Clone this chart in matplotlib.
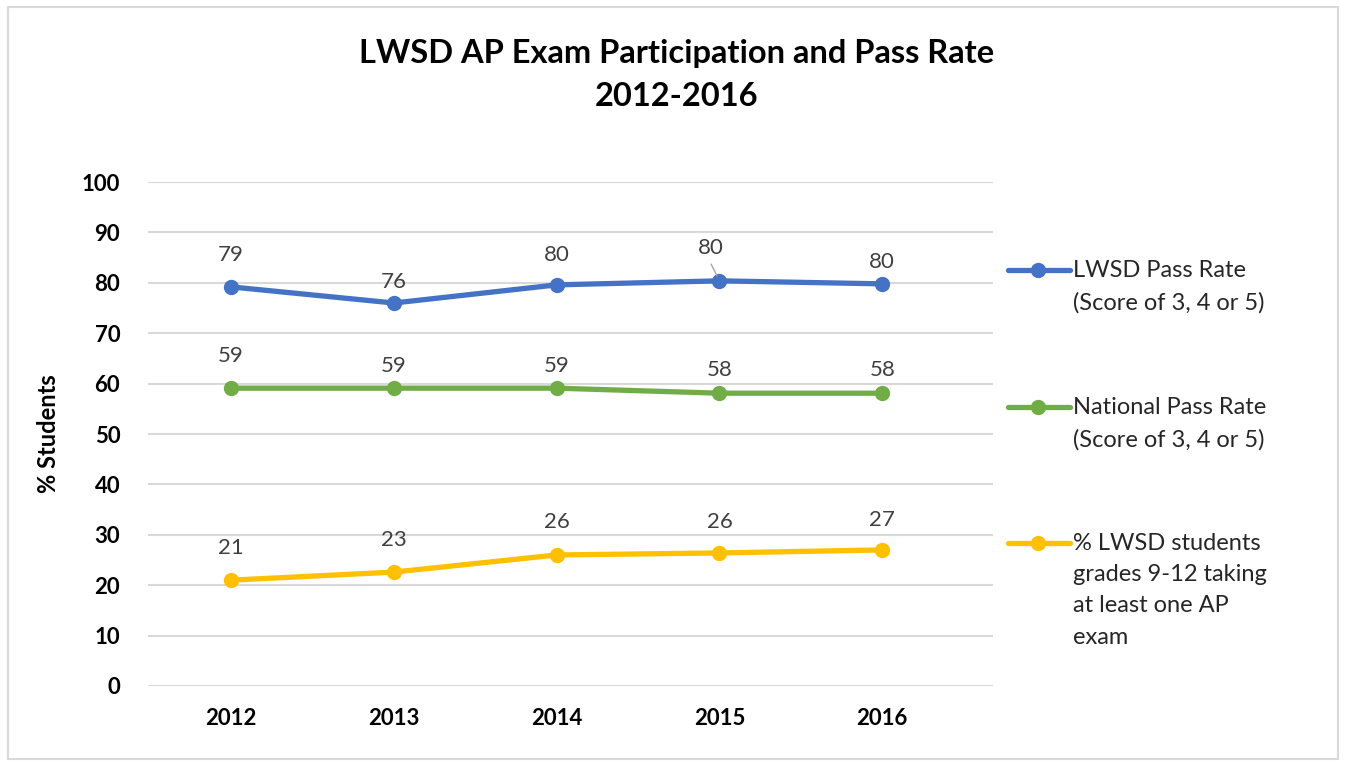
import matplotlib.pyplot as plt
from matplotlib.lines import Line2D
from matplotlib.patches import Rectangle

years = ["2012", "2013", "2014", "2015", "2016"]
lwsd_pass = [79.2, 76.0, 79.6, 80.4, 79.8]
national_pass = [59.1, 59.1, 59.1, 58.1, 58.1]
participation = [21.0, 22.6, 26.0, 26.4, 27.0]

series_names = [
    "LWSD Pass Rate\n(Score of 3, 4 or 5)",
    "National Pass Rate\n(Score of 3, 4 or 5)",
    "% LWSD students\ngrades 9-12 taking\nat least one AP\nexam",
]
colors = ["#4472C4", "#70AD47", "#FFC000"]

plt.rcParams["font.family"] = ["Lato", "DejaVu Sans"]

fig = plt.figure(figsize=(13.45, 7.65), dpi=100)
ax = fig.add_axes([148 / 1345, 0.1033, 845 / 1345, 0.6587])

x = list(range(len(years)))
all_series = [lwsd_pass, national_pass, participation]
# per-point label offsets in points (Excel placed them a bit unevenly)
offsets = [
    [(0, 23), (0, 15), (0, 21.5), (-6, 24), (0, 16)],
    [(0, 23), (0, 16), (0, 16), (0, 16.5), (0, 16.5)],
    [(0, 23), (0, 23), (0, 24), (0, 22), (0, 21.5)],
]
for vals, c, offs in zip(all_series, colors, offsets):
    ax.plot(x, vals, color=c, lw=3.8, marker="o", ms=10, solid_capstyle="round")
    for i, v in enumerate(vals):
        ax.annotate(f"{v:.0f}", (i, v), xytext=offs[i], textcoords="offset points",
                    ha="center", va="center", fontsize=16, color="#404040")

# leader line for the shifted 2015 label
ax.annotate("", (3, lwsd_pass[3]), xytext=(-6, 12), textcoords="offset points",
            arrowprops=dict(arrowstyle="-", color="#A6A6A6", lw=1, shrinkA=0, shrinkB=4))

ax.set_xlim(-0.51, 4.68)
ax.set_ylim(0, 100)
ax.set_yticks(range(0, 101, 10))
ax.set_xticks(x)
ax.set_xticklabels(years)
ax.yaxis.grid(True, color="#D9D9D9", lw=1.5)
ax.set_axisbelow(True)
for s in ax.spines.values():
    s.set_visible(False)
ax.tick_params(length=0, labelsize=16)
ax.tick_params(axis="y", pad=20)
ax.tick_params(axis="x", pad=16)
for lab in ax.get_xticklabels() + ax.get_yticklabels():
    lab.set_fontweight("bold")
ax.set_ylabel("% Students", fontsize=17, fontweight="bold", labelpad=16)

fig.text(0.503, 0.902, "LWSD AP Exam Participation and Pass Rate\n2012-2016",
         ha="center", va="center", fontsize=23.5, fontweight="bold", linespacing=1.55)

# legend drawn by hand so each marker sits on the first text line
legend_y = [1 - 270 / 765, 1 - 407 / 765, 1 - 543 / 765]
for name, c, ly in zip(series_names, colors, legend_y):
    fig.add_artist(Line2D([1008 / 1345, 1070 / 1345], [ly, ly], color=c, lw=3.8,
                          solid_capstyle="round", transform=fig.transFigure))
    fig.add_artist(Line2D([1038 / 1345], [ly], color=c, marker="o", ms=10,
                          transform=fig.transFigure))
    fig.text(1073 / 1345, ly + 0.013, name, ha="left", va="top", fontsize=17,
             color="#262626", linespacing=1.6)

fig.add_artist(Rectangle((0.006, 0.008), 0.989, 0.983, fill=False, edgecolor="#D9D9D9",
                         lw=1.5, transform=fig.transFigure))

fig.savefig("out.png", dpi=100, facecolor="white")
